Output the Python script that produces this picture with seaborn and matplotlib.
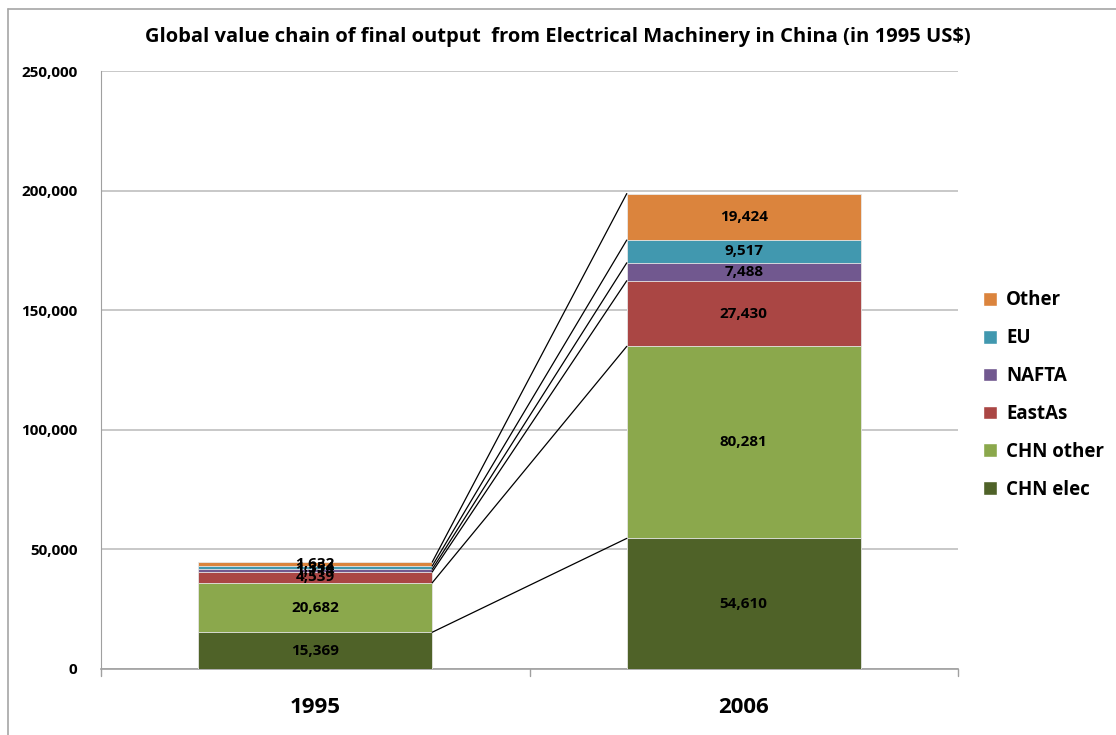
import numpy as np
import pandas as pd
import seaborn as sns
import matplotlib.pyplot as plt
from matplotlib.lines import Line2D
from matplotlib.patches import Patch
from matplotlib.ticker import FuncFormatter

# data (bottom -> top of each stack)
years = ["1995", "2006"]
series = ["CHN elec", "CHN other", "EastAs", "NAFTA", "EU", "Other"]
vals_1995 = [15369, 20682, 4539, 1114, 1354, 1632]
vals_2006 = [54610, 80281, 27430, 7488, 9517, 19424]
colors = ["#4F6228", "#8BA84C", "#AA4644", "#71588F", "#4198AF", "#DB843D"]

df = pd.DataFrame({"1995": vals_1995, "2006": vals_2006}, index=series)
cum = df.cumsum()

sns.set_style("white")
plt.rcParams["font.family"] = ["Open Sans", "DejaVu Sans"]
plt.rcParams["font.weight"] = "bold"
plt.rcParams["text.color"] = "black"
plt.rcParams["xtick.labelcolor"] = "black"
plt.rcParams["ytick.labelcolor"] = "black"

fig = plt.figure(figsize=(11.16, 7.35), dpi=100)
ax = fig.add_axes([101 / 1116, 1 - 669 / 735, (958 - 101) / 1116, (669 - 71) / 735])

bar_w = 0.546
# draw cumulative totals from the top series down so each layer covers the one above
for i in range(len(series) - 1, -1, -1):
    layer = pd.DataFrame({"year": years, "total": cum.iloc[i].values})
    sns.barplot(data=layer, x="year", y="total", color=colors[i], width=bar_w,
                saturation=1, edgecolor="#E8E8E8", linewidth=0.6, ax=ax, zorder=3)

# data labels in the middle of each segment (the small 1995 ones overlap, as in the original)
for j, yr in enumerate(years):
    for i, s in enumerate(series):
        v = df.loc[s, yr]
        ax.text(j, cum.loc[s, yr] - v / 2, f"{v:,}", ha="center", va="center",
                fontsize=11, fontweight="bold", color="black", zorder=5)

# series lines between the top edges of the segments
for s in series:
    ax.plot([0 + bar_w / 2, 1 - bar_w / 2], [cum.loc[s, "1995"], cum.loc[s, "2006"]],
            color="black", lw=0.9, zorder=4)

ax.set_xlim(-0.5, 1.5)
ax.set_ylim(0, 250000)
ax.set_yticks(np.arange(0, 250001, 50000))
ax.yaxis.set_major_formatter(FuncFormatter(lambda v, p: f"{int(v):,}"))
ax.yaxis.grid(True, color="#BFBFBF", lw=1.2, zorder=0)
ax.set_axisbelow(True)
ax.set_xlabel("")
ax.set_ylabel("")

for side in ["top", "right"]:
    ax.spines[side].set_visible(False)
ax.spines["left"].set_color("#A0A0A0")
ax.spines["bottom"].set_color("#A0A0A0")
ax.spines["bottom"].set_linewidth(1.2)

ax.tick_params(axis="y", length=5, color="#A0A0A0", labelcolor="black", labelsize=11, pad=12)
for lb in ax.get_yticklabels():
    lb.set_fontweight("bold")
ax.set_xticks([0, 1])
ax.set_xticklabels(years, fontsize=16, fontweight="bold", color="black")
ax.tick_params(axis="x", length=0, pad=20)
for xt in [-0.5, 0.5, 1.5]:
    ax.plot([xt, xt], [0, -0.012], transform=ax.get_xaxis_transform(), color="#A0A0A0",
            lw=1, clip_on=False)

fig.text(0.5, 1 - 37 / 735, "Global value chain of final output  from Electrical Machinery in China (in 1995 US$)",
         ha="center", va="center", fontsize=14.5, fontweight="bold", color="black")

handles = [Patch(facecolor=colors[i], label=series[i]) for i in range(len(series) - 1, -1, -1)]
leg = fig.legend(handles=handles, loc="center left", bbox_to_anchor=(966 / 1116, 1 - 395 / 735),
                 frameon=False, handlelength=0.75, handleheight=0.75,
                 handletextpad=0.5, labelspacing=0.95, prop={"weight": "bold", "size": 13.5})
for t in leg.get_texts():
    t.set_color("black")

# outer chart border (only top and left visible in the crop)
fig.add_artist(Line2D([8 / 1116, 1], [1 - 9 / 735, 1 - 9 / 735], color="#A6A6A6", lw=1.2))
fig.add_artist(Line2D([8 / 1116, 8 / 1116], [0, 1 - 9 / 735], color="#A6A6A6", lw=1.2))

fig.savefig("out.png", dpi=100, facecolor="white")
